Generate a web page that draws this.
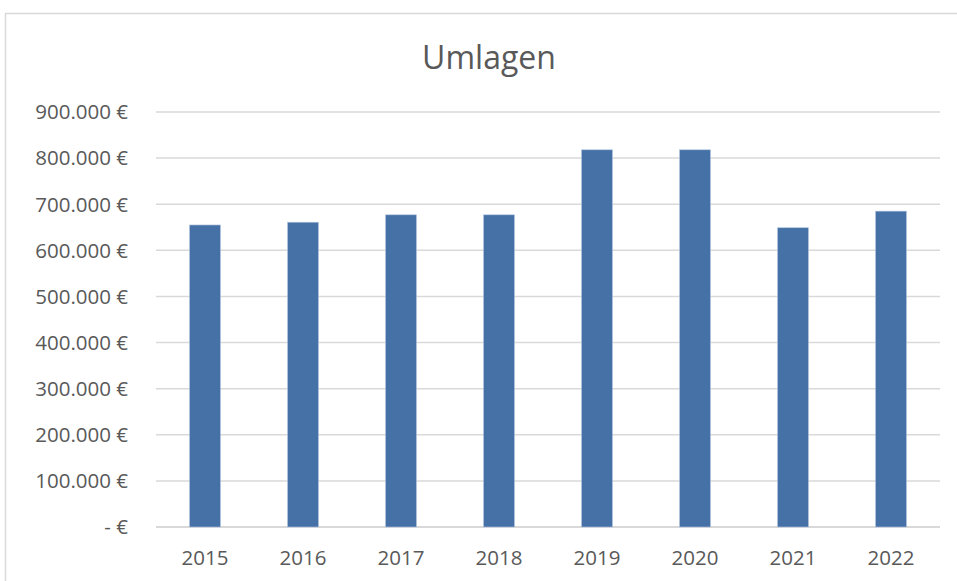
<!DOCTYPE html>
<html>
<head>
<meta charset="utf-8">
<script src="https://cdn.jsdelivr.net/npm/d3@7"></script>
<style>
  body { margin: 0; background: #fff; }
  text { font-family: 'Open Sans', sans-serif; fill: #595959; }
</style>
</head>
<body>
<div id="chart"></div>
<script>
let years = ['2015', '2016', '2017', '2018', '2019', '2020', '2021', '2022']
let umlagen = [655000, 661000, 677000, 677000, 818000, 818000, 649000, 685000]
let yTicks = [0, 100000, 200000, 300000, 400000, 500000, 600000, 700000, 800000, 900000]

let width = 957
let height = 581
let margin = { top: 112, left: 156, right: 17, bottom: 54 }

let svg = d3
  .select('#chart')
  .append('svg')
  .attr('width', width)
  .attr('height', height)

// chart frame (only top/left edges are inside the picture)
svg
  .append('rect')
  .attr('x', 5.5)
  .attr('y', 13.5)
  .attr('width', 1200)
  .attr('height', 1200)
  .attr('fill', 'none')
  .attr('stroke', '#d9d9d9')
  .attr('stroke-width', 1.5)

let xScale = d3
  .scaleBand()
  .domain(years)
  .range([margin.left, width - margin.right])
  .paddingInner(0.684)
  .paddingOuter(0.342)

let yScale = d3
  .scaleLinear()
  .domain([0, 900000])
  .range([height - margin.bottom, margin.top])

let fmt = d => (d === 0 ? '- €' : d3.format(',')(d).replace(/,/g, '.') + ' €')

svg
  .selectAll('.grid')
  .data(yTicks)
  .enter()
  .append('line')
  .attr('class', 'grid')
  .attr('x1', margin.left)
  .attr('x2', width - margin.right)
  .attr('y1', d => yScale(d))
  .attr('y2', d => yScale(d))
  .attr('stroke', '#d9d9d9')
  .attr('stroke-width', d => (d === 0 ? 2 : 1.5))

svg
  .selectAll('.y-label')
  .data(yTicks)
  .enter()
  .append('text')
  .attr('class', 'y-label')
  .attr('x', 128)
  .attr('y', d => yScale(d))
  .attr('dy', '0.36em')
  .attr('text-anchor', 'end')
  .attr('font-size', 20.5)
  .text(fmt)

svg
  .selectAll('.bar')
  .data(umlagen)
  .enter()
  .append('rect')
  .attr('class', 'bar')
  .attr('x', (d, i) => xScale(years[i]))
  .attr('width', xScale.bandwidth())
  .attr('y', d => yScale(d))
  .attr('height', d => yScale(0) - yScale(d))
  .attr('fill', '#4571a6')
  .attr('stroke', '#b4c6df')
  .attr('stroke-width', 0.6)

svg
  .selectAll('.x-label')
  .data(years)
  .enter()
  .append('text')
  .attr('class', 'x-label')
  .attr('x', d => xScale(d) + xScale.bandwidth() / 2)
  .attr('y', 565)
  .attr('text-anchor', 'middle')
  .attr('font-size', 20.5)
  .text(d => d)

svg
  .append('text')
  .attr('x', 489)
  .attr('y', 69)
  .attr('text-anchor', 'middle')
  .attr('font-size', 32)
  .text('Umlagen')
</script>
</body>
</html>
